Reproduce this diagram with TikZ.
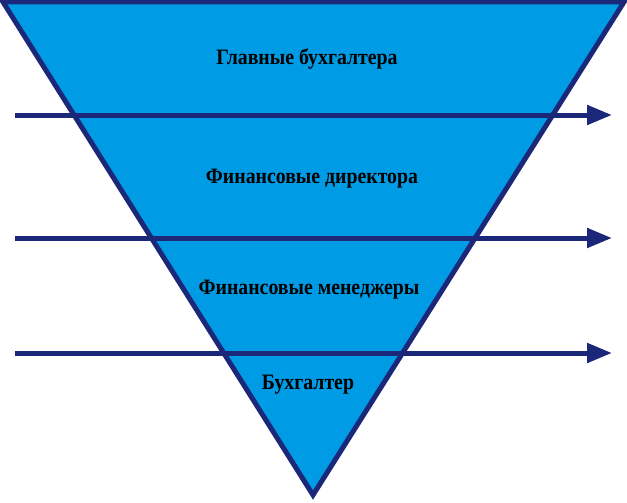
\documentclass[tikz,border=0pt]{standalone}
\usepackage{fontspec}
\setmainfont[FakeStretch=0.9]{Liberation Serif}
\usetikzlibrary{arrows.meta}
\definecolor{pyr_fill}{RGB}{0,155,229}
\definecolor{pyr_line}{RGB}{27,40,122}
\tikzset{
	layer_text/.style = {
		align=center,
		inner sep=0pt,
		text centered,
		font=\fontsize{22}{24}\selectfont\bfseries,
		text=black
	},
	level_arrow/.style = {
		draw=pyr_line,
		line width=5pt,
		-{Triangle[length=25pt,width=19pt]}
	},
	pyramid/.style = {
		draw=pyr_line,
		fill=pyr_fill,
		line width=5pt,
		line join=miter
	}
}
\begin{document}
\begin{tikzpicture}[x=1pt,y=-1pt]
\useasboundingbox (0,0) rectangle (627,503);
\coordinate (top_l) at (3,2);
\coordinate (top_r) at (624,2);
\coordinate (apex) at (313,495);
\draw [pyramid] (top_l) -- (top_r) -- (apex) -- cycle;
\coordinate (a1_s) at (15,115);
\coordinate (a1_e) at (612,115);
\coordinate (a2_s) at (15,238);
\coordinate (a2_e) at (612,238);
\coordinate (a3_s) at (15,353);
\coordinate (a3_e) at (612,353);
\draw [level_arrow] (a1_s) -- (a1_e);
\draw [level_arrow] (a2_s) -- (a2_e);
\draw [level_arrow] (a3_s) -- (a3_e);
\node [layer_text] (chief) at (307,59) {Главные бухгалтера};
\node [layer_text] (cfo) at (312,179) {Финансовые директора};
\node [layer_text] (mgr) at (309,290) {Финансовые менеджеры};
\node [layer_text] (acc) at (308,385) {Бухгалтер};
\end{tikzpicture}
\end{document}
